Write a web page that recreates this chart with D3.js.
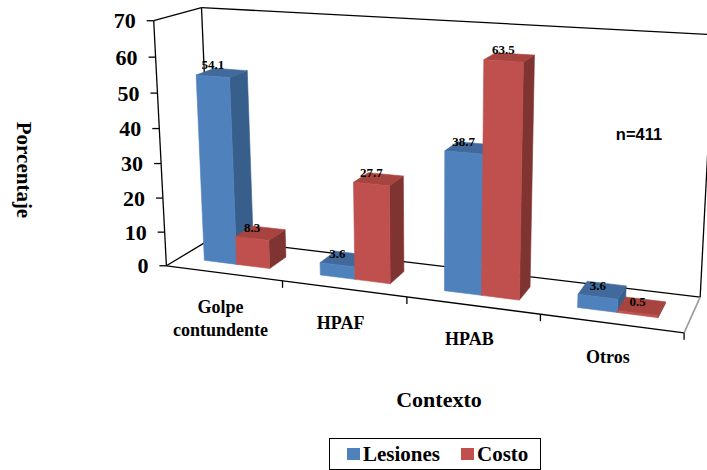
<!DOCTYPE html>
<html>
<head>
<meta charset="utf-8">
<script src="https://cdn.jsdelivr.net/npm/d3@7"></script>
<style>
  body { margin: 0; background: #ffffff; }
  svg { display: block; }
</style>
</head>
<body>
<svg id="chart" width="707" height="470"></svg>
<script>
// ---- data ----
const categories = ["Golpe contundente", "HPAF", "HPAB", "Otros"];
const categoryLines = [["Golpe", "contundente"], ["HPAF"], ["HPAB"], ["Otros"]];
const series = ["Lesiones", "Costo"];
const lesiones = [54.1, 3.6, 38.7, 3.6];
const costo = [8.3, 27.7, 63.5, 0.5];
const valueTicks = [0, 10, 20, 30, 40, 50, 60, 70];
const sampleNote = "n=411";

// ---- look ----
const palette = {
  Lesiones: { front: "#4F81BD", top: "#41699C", side: "#385E8B" },
  Costo:    { front: "#C0504D", top: "#A8443F", side: "#7F3431" }
};
const SERIF = '"Liberation Serif"';
const SANS = '"Liberation Sans"';

// ---- perspective box ----
// World coordinates: u across categories (0..1), h up the value axis (0..1),
// w into the depth of the floor (0 front, 1 back). The camera is calibrated
// from where the corners of the plot box and its axis ticks fall on the page.
const frameAnchors = [
  [0, 0, 0, 167, 266], [1, 0, 0, 683, 333], [0, 0, 1, 210, 239], [1, 0, 1, 700, 297],
  [0, 1, 0, 153, 22],  [0, 1, 1, 203, 8],   [1, 1, 1, 714, 34],
  [0.25, 0, 0, 284, 281], [0.5, 0, 0, 406, 297], [0.75, 0, 0, 542, 315],
  [0, 1 / 7, 0, 165, 231], [0, 2 / 7, 0, 163, 198], [0, 3 / 7, 0, 161, 163],
  [0, 4 / 7, 0, 159, 128], [0, 5 / 7, 0, 157, 93],  [0, 6 / 7, 0, 155, 57]
];
const barDepth = [0.3, 0.7];

function solve(M) {
  const n = M.length;
  for (let c = 0; c < n; c++) {
    let piv = c;
    for (let r = c + 1; r < n; r++) if (Math.abs(M[r][c]) > Math.abs(M[piv][c])) piv = r;
    [M[c], M[piv]] = [M[piv], M[c]];
    for (let r = 0; r < n; r++) {
      if (r === c) continue;
      const f = M[r][c] / M[c][c];
      for (let k = c; k <= n; k++) M[r][k] -= f * M[c][k];
    }
  }
  return M.map((row, i) => row[n] / row[i]);
}

function fitProjection(anchors) {
  const cx = 420, cy = 170, s = 300;
  const n = 11;
  const M = Array.from({ length: n }, () => new Array(n + 1).fill(0));
  const addRow = (a, b) => {
    for (let i = 0; i < n; i++) {
      for (let j = 0; j < n; j++) M[i][j] += a[i] * a[j];
      M[i][n] += a[i] * b;
    }
  };
  anchors.forEach(([X, Y, Z, px, py]) => {
    const x = (px - cx) / s, y = (py - cy) / s;
    addRow([X, Y, Z, 1, 0, 0, 0, 0, -x * X, -x * Y, -x * Z], x);
    addRow([0, 0, 0, 0, X, Y, Z, 1, -y * X, -y * Y, -y * Z], y);
  });
  const p = solve(M);
  return (u, h, w) => {
    const d = p[8] * u + p[9] * h + p[10] * w + 1;
    return [
      ((p[0] * u + p[1] * h + p[2] * w + p[3]) / d) * s + cx,
      ((p[4] * u + p[5] * h + p[6] * w + p[7]) / d) * s + cy
    ];
  };
}
const project = fitProjection(frameAnchors);

// ---- scales ----
const xCat = d3.scaleBand().domain(categories).range([0, 1]);
const xSeries = d3.scaleBand().domain(series).range([0, xCat.bandwidth()]).paddingOuter(0.75);
const yVal = d3.scaleLinear().domain([0, 70]).range([0, 1]);

const svg = d3.select("#chart");
const line = d3.line();
const poly = pts => line(pts.map(p => project(...p))) + "Z";

function label(sel, family, size) {
  return sel.style("font-family", family).style("font-weight", "bold")
    .style("font-size", size + "px").attr("fill", "#000");
}

// ---- plot box ----
const frame = svg.append("g").attr("fill", "none");
const edges = [
  [[0, 0, 0], [0, 0, 1]], [[0, 1, 0], [0, 1, 1]],
  [[0, 0, 1], [0, 1, 1]], [[0, 1, 1], [1, 1, 1]],
  [[1, 0, 1], [1, 1, 1]], [[0, 0, 1], [1, 0, 1]],
  [[0, 0, 0], [0, 1, 0]], [[0, 0, 0], [1, 0, 0]]
];
edges.forEach(e => {
  frame.append("path").attr("d", line(e.map(p => project(...p))))
    .attr("stroke", "#000").attr("stroke-width", 1.3);
});
frame.append("path").attr("d", line([project(1, 0, 0), project(1, 0, 1)]))
  .attr("stroke", "#9a9a9a").attr("stroke-width", 1.6);

// value axis ticks and labels
valueTicks.forEach(t => {
  const p = project(0, yVal(t), 0);
  frame.append("line").attr("x1", p[0] - 7).attr("x2", p[0]).attr("y1", p[1]).attr("y2", p[1])
    .attr("stroke", "#000").attr("stroke-width", 1.3);
  label(svg.append("text"), SERIF, 22).attr("x", p[0] - 18).attr("y", p[1]).attr("dy", "0.35em")
    .attr("text-anchor", "end").text(t);
});

// category ticks
categories.forEach(c => {
  const p = project(xCat(c) + xCat.bandwidth(), 0, 0);
  frame.append("line").attr("x1", p[0]).attr("x2", p[0]).attr("y1", p[1]).attr("y2", p[1] + 7)
    .attr("stroke", "#000").attr("stroke-width", 1.3);
});

// ---- bars ----
const bars = [];
categories.forEach((c, i) => {
  series.forEach((s, j) => {
    bars.push({ cat: c, series: s, value: (j === 0 ? lesiones : costo)[i] });
  });
});

const barLayer = svg.append("g");
bars.forEach(b => {
  const u0 = xCat(b.cat) + xSeries(b.series);
  const u1 = u0 + xSeries.bandwidth();
  const h = yVal(b.value);
  const [w0, w1] = barDepth;
  const col = palette[b.series];
  const g = barLayer.append("g");
  const faces = [
    { pts: [[u1, 0, w0], [u1, 0, w1], [u1, h, w1], [u1, h, w0]], fill: col.side },
    { pts: [[u0, h, w0], [u1, h, w0], [u1, h, w1], [u0, h, w1]], fill: col.top },
    { pts: [[u0, 0, w0], [u1, 0, w0], [u1, h, w0], [u0, h, w0]], fill: col.front }
  ];
  faces.forEach(f => {
    g.append("path").attr("d", poly(f.pts)).attr("fill", f.fill)
      .attr("stroke", f.fill).attr("stroke-width", 0.6).attr("stroke-linejoin", "round");
  });
  b.labelAt = project((u0 + u1) / 2, h, w0);
});

// value labels
bars.forEach(b => {
  label(svg.append("text"), SERIF, 13).attr("x", b.labelAt[0]).attr("y", b.labelAt[1] - 7)
    .attr("text-anchor", "middle").text(b.value.toFixed(1));
});

// category labels
categories.forEach((c, i) => {
  const p = project(xCat(c) + xCat.bandwidth() / 2, 0, 0);
  const t = label(svg.append("text"), SERIF, 18).attr("text-anchor", "middle");
  categoryLines[i].forEach((ln, k) => {
    t.append("tspan").attr("x", p[0] - 3).attr("y", p[1] + 40 + k * 23).text(ln);
  });
});

// ---- titles ----
label(svg.append("text"), SERIF, 21).attr("transform", "translate(17,170) rotate(90)")
  .attr("text-anchor", "middle").text("Porcentaje");

label(svg.append("text"), SERIF, 22).attr("x", 439).attr("y", 407)
  .attr("text-anchor", "middle").text("Contexto");

label(svg.append("text"), SANS, 16.5).attr("x", 639).attr("y", 140)
  .attr("text-anchor", "middle").text(sampleNote);

// ---- legend ----
const legend = svg.append("g");
legend.append("rect").attr("x", 329.5).attr("y", 438.5).attr("width", 211).attr("height", 31)
  .attr("fill", "#fff").attr("stroke", "#000").attr("stroke-width", 1);
const legendX = [347, 461];
series.forEach((s, i) => {
  legend.append("rect").attr("x", legendX[i]).attr("y", 448).attr("width", 13).attr("height", 12)
    .attr("fill", palette[s].front);
  label(legend.append("text"), SERIF, 21).attr("x", legendX[i] + 16).attr("y", 460.5).text(s);
});
</script>
</body>
</html>
